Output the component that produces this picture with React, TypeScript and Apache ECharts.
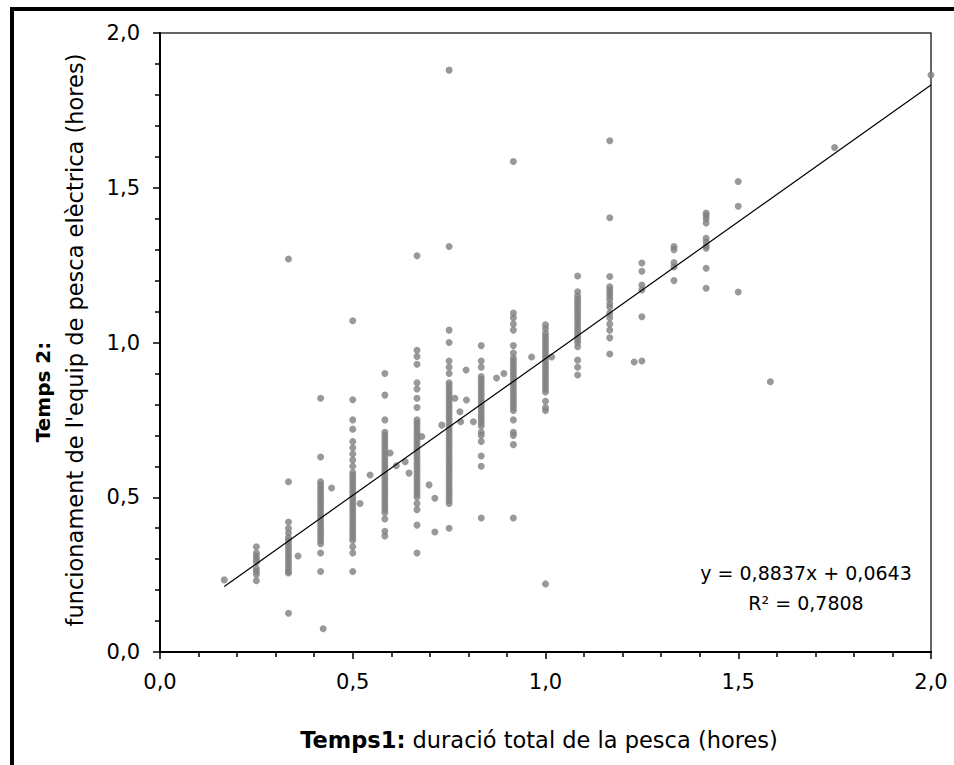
import React, { useEffect, useRef } from "react";
import * as echarts from "echarts";

// Column x positions (fishing durations, hours)
const columnX = [0.25, 0.3333, 0.4167, 0.5, 0.5833, 0.6667, 0.75, 0.8333, 0.9167, 1.0, 1.0833, 1.1667, 1.25, 1.3333, 1.4167, 1.5];

const col025 = [0.34, 0.32, 0.31, 0.30, 0.29, 0.27, 0.26, 0.25, 0.23];
const col033 = [1.27, 0.55, 0.42, 0.40, 0.385, 0.37, 0.36, 0.35, 0.34, 0.33, 0.32, 0.31, 0.30, 0.29, 0.28, 0.27, 0.26, 0.255, 0.125];
const col042 = [0.82, 0.63, 0.55, 0.54, 0.53, 0.52, 0.51, 0.50, 0.49, 0.48, 0.47, 0.46, 0.45, 0.44, 0.43, 0.42, 0.41, 0.40, 0.39, 0.38, 0.37, 0.36, 0.35, 0.32, 0.26];
const col050 = [1.07, 0.815, 0.75, 0.72, 0.68, 0.66, 0.64, 0.62, 0.60, 0.58, 0.57, 0.56, 0.55, 0.54, 0.53, 0.52, 0.51, 0.50, 0.49, 0.48, 0.47, 0.46, 0.45, 0.44, 0.43, 0.42, 0.41, 0.40, 0.39, 0.38, 0.37, 0.36, 0.34, 0.32, 0.26];
const col058 = [0.90, 0.83, 0.75, 0.71, 0.70, 0.69, 0.68, 0.67, 0.66, 0.65, 0.64, 0.63, 0.62, 0.61, 0.60, 0.59, 0.58, 0.57, 0.56, 0.55, 0.54, 0.53, 0.52, 0.51, 0.50, 0.49, 0.48, 0.47, 0.46, 0.45, 0.43, 0.39, 0.375];
const col067 = [1.28, 0.975, 0.955, 0.93, 0.87, 0.85, 0.82, 0.79, 0.75, 0.74, 0.73, 0.72, 0.71, 0.70, 0.69, 0.68, 0.67, 0.66, 0.65, 0.64, 0.63, 0.62, 0.61, 0.60, 0.59, 0.58, 0.57, 0.56, 0.55, 0.54, 0.53, 0.52, 0.51, 0.50, 0.48, 0.46, 0.41, 0.32];
const col075 = [1.88, 1.31, 1.04, 1.00, 0.94, 0.92, 0.90, 0.87, 0.86, 0.85, 0.84, 0.83, 0.82, 0.81, 0.80, 0.79, 0.78, 0.77, 0.76, 0.75, 0.74, 0.73, 0.72, 0.71, 0.70, 0.69, 0.68, 0.67, 0.66, 0.65, 0.64, 0.63, 0.62, 0.61, 0.60, 0.59, 0.58, 0.57, 0.56, 0.55, 0.54, 0.53, 0.52, 0.51, 0.50, 0.49, 0.48, 0.40];
const col083 = [0.99, 0.94, 0.92, 0.89, 0.88, 0.87, 0.86, 0.85, 0.84, 0.83, 0.82, 0.81, 0.80, 0.79, 0.78, 0.77, 0.76, 0.75, 0.74, 0.73, 0.71, 0.70, 0.68, 0.633, 0.60, 0.433];
const col092 = [1.585, 1.095, 1.08, 1.06, 1.04, 0.99, 0.966, 0.95, 0.94, 0.93, 0.92, 0.91, 0.90, 0.89, 0.88, 0.87, 0.86, 0.85, 0.84, 0.83, 0.82, 0.81, 0.80, 0.79, 0.78, 0.75, 0.71, 0.70, 0.67, 0.433];
const col100 = [1.057, 1.045, 1.03, 1.02, 1.01, 1.00, 0.99, 0.98, 0.97, 0.96, 0.95, 0.94, 0.93, 0.92, 0.91, 0.90, 0.89, 0.88, 0.87, 0.86, 0.85, 0.84, 0.81, 0.79, 0.78, 0.22];
const col108 = [1.215, 1.164, 1.15, 1.14, 1.13, 1.12, 1.11, 1.10, 1.09, 1.08, 1.07, 1.06, 1.05, 1.04, 1.03, 1.02, 1.01, 1.00, 0.986, 0.943, 0.92, 0.895];
const col117 = [1.652, 1.403, 1.213, 1.18, 1.17, 1.16, 1.15, 1.14, 1.125, 1.115, 1.095, 1.08, 1.06, 1.04, 1.015, 0.963];
const col125 = [1.257, 1.23, 1.186, 1.17, 1.083, 0.94];
const col133 = [1.31, 1.30, 1.258, 1.244, 1.20];
const col142 = [1.418, 1.41, 1.40, 1.386, 1.337, 1.325, 1.312, 1.305, 1.24, 1.175];
const col150 = [1.52, 1.44, 1.163];

const columnY = [col025, col033, col042, col050, col058, col067, col075, col083, col092, col100, col108, col117, col125, col133, col142, col150];

// Isolated points
const singleX = [0.1667, 1.5833, 1.75, 2.0, 0.358, 0.4233, 0.445, 0.519, 0.545, 0.597, 0.613, 0.636, 0.646, 0.679, 0.698, 0.713, 0.713, 0.731, 0.765, 0.778, 0.78, 0.794, 0.795, 0.813, 0.873, 0.892, 0.964, 1.016, 1.23];
const singleY = [0.233, 0.873, 1.63, 1.864, 0.31, 0.075, 0.53, 0.48, 0.572, 0.643, 0.602, 0.615, 0.578, 0.696, 0.54, 0.497, 0.388, 0.733, 0.82, 0.776, 0.744, 0.911, 0.814, 0.744, 0.885, 0.90, 0.953, 0.953, 0.937];

// Regression
const slope = 0.8837;
const intercept = 0.0643;
const trendRange = [0.1667, 2.0];

const xTickLabels = ["0,0", "0,5", "1,0", "1,5", "2,0"];
const yTickLabels = ["0,0", "0,5", "1,0", "1,5", "2,0"];

const FONT = "DejaVu Sans";

export default function App() {
  const ref = useRef<HTMLDivElement>(null);
  useEffect(() => {
    if (!ref.current) return;
    const chart = echarts.init(ref.current, undefined, { renderer: "svg" });
    const points: number[][] = [];
    columnX.forEach((x, i) => columnY[i].forEach((y) => points.push([x, y])));
    singleX.forEach((x, i) => points.push([x, singleY[i]]));
    const trend = trendRange.map((x) => [x, slope * x + intercept]);

    chart.setOption({
      animation: false,
      backgroundColor: "#fff",
      grid: {
        left: 160,
        top: 33,
        width: 771,
        height: 619,
        show: true,
        borderColor: "#333",
        borderWidth: 1.5,
        backgroundColor: "transparent",
      },
      xAxis: {
        type: "value",
        min: 0,
        max: 2,
        interval: 0.5,
        axisLine: { show: true, onZero: false, lineStyle: { color: "#000", width: 2 } },
        axisTick: { show: true, length: 7, lineStyle: { color: "#000", width: 1.5 } },
        minorTick: { show: true, splitNumber: 5, length: 5, lineStyle: { color: "#000", width: 1.5 } },
        splitLine: { show: false },
        minorSplitLine: { show: false },
        axisLabel: {
          margin: 19,
          fontFamily: FONT,
          fontSize: 21,
          color: "#000",
          formatter: (v: number) => xTickLabels[Math.round(v / 0.5)] ?? "",
        },
      },
      yAxis: {
        type: "value",
        min: 0,
        max: 2,
        interval: 0.5,
        axisLine: { show: true, onZero: false, lineStyle: { color: "#000", width: 2 } },
        axisTick: { show: true, length: 7, lineStyle: { color: "#000", width: 1.5 } },
        minorTick: { show: true, splitNumber: 5, length: 5, lineStyle: { color: "#000", width: 1.5 } },
        splitLine: { show: false },
        minorSplitLine: { show: false },
        axisLabel: {
          margin: 20,
          fontFamily: FONT,
          fontSize: 21,
          color: "#000",
          formatter: (v: number) => yTickLabels[Math.round(v / 0.5)] ?? "",
        },
      },
      series: [
        {
          type: "scatter",
          data: points,
          symbol: "circle",
          symbolSize: 7,
          itemStyle: { color: "#808080" },
          z: 2,
        },
        {
          type: "line",
          data: trend,
          symbol: "none",
          lineStyle: { color: "#000", width: 1.2 },
          z: 3,
        },
      ],
      graphic: [
        { type: "rect", shape: { x: 10, y: 7, width: 944, height: 4 }, style: { fill: "#000" } },
        { type: "rect", shape: { x: 10, y: 7, width: 4, height: 758 }, style: { fill: "#000" } },
        {
          type: "text",
          x: 539,
          y: 740,
          style: {
            text: "{b|Temps1:} duració total de la pesca (hores)",
            fontFamily: FONT,
            fontSize: 22.5,
            fill: "#000",
            textAlign: "center",
            textVerticalAlign: "middle",
            rich: { b: { fontFamily: FONT, fontSize: 22.5, fontWeight: "bold", fill: "#000" } },
          },
        },
        {
          type: "text",
          x: 43,
          y: 392,
          rotation: Math.PI / 2,
          style: {
            text: "Temps 2:",
            fontFamily: FONT,
            fontSize: 20,
            fontWeight: "bold",
            fill: "#000",
            textAlign: "center",
            textVerticalAlign: "middle",
          },
        },
        {
          type: "text",
          x: 75,
          y: 340,
          rotation: Math.PI / 2,
          style: {
            text: "funcionament de l'equip de pesca elèctrica (hores)",
            fontFamily: FONT,
            fontSize: 22.5,
            fill: "#000",
            textAlign: "center",
            textVerticalAlign: "middle",
          },
        },
        {
          type: "text",
          x: 806,
          y: 573,
          style: {
            text: "y = 0,8837x + 0,0643",
            fontFamily: FONT,
            fontSize: 19,
            fill: "#000",
            textAlign: "center",
            textVerticalAlign: "middle",
          },
        },
        {
          type: "text",
          x: 806,
          y: 603,
          style: {
            text: "R² = 0,7808",
            fontFamily: FONT,
            fontSize: 19,
            fill: "#000",
            textAlign: "center",
            textVerticalAlign: "middle",
          },
        },
      ],
    });
    return () => chart.dispose();
  }, []);
  return (
    <div
      ref={ref}
      style={{ position: "fixed", left: 0, top: 0, width: 954, height: 765, background: "#fff" }}
    />
  );
}
